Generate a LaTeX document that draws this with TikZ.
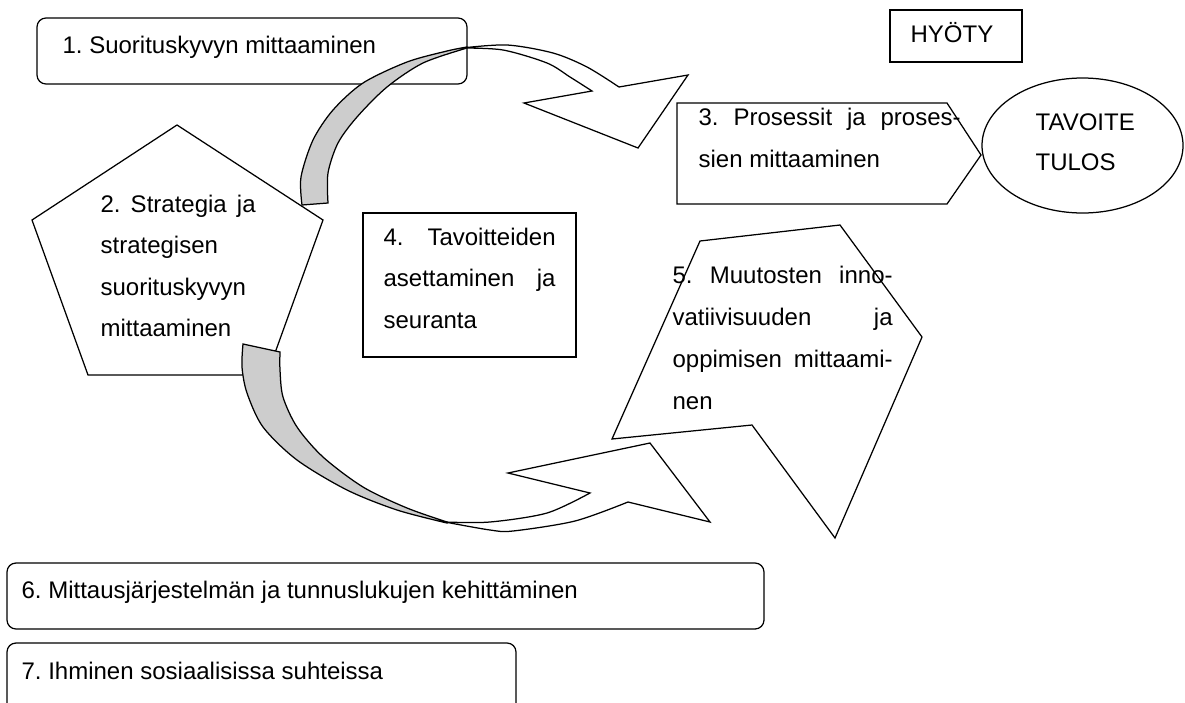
\documentclass[tikz,border=0pt]{standalone}
\usepackage{fontspec}
\setmainfont{Liberation Sans}
\definecolor{bandgray}{RGB}{205,205,205}
\frenchspacing
\begin{document}
\begin{tikzpicture}[x=1pt,y=-1pt, line width=1.25pt,
  lbl/.style={inner sep=0pt, anchor=base west, font=\fontsize{24}{28}\selectfont},
  band/.style={draw=black, fill=bandgray},
  face/.style={draw=black, fill=white},
  roundbox/.style={draw=black, rounded corners=9pt}]
\useasboundingbox (0,0) rectangle (1185,702);
\clip (0,0) rectangle (1185,702);

% pentagon: strategy
\draw[face] (177,125) -- (323,220) -- (267,375) -- (88,375) -- (32,220) -- cycle;
% rounded box: performance measurement
\draw[roundbox] (37,18) rectangle (467,84);
% goal setting box
\draw (363,213) rectangle (576,357);
% process box with pointed right end
\draw (677,103) -- (947,103) -- (981,155) -- (947,204) -- (677,204) -- cycle;
% goal / result ellipse
\draw (1082.5,145.5) ellipse [x radius=100.5pt, y radius=67.5pt];
% benefit box
\draw (890,10) rectangle (1022,62);
% innovation polygon
\draw (700,241) -- (840,225) -- (922,337) -- (835,538) -- (752,425) -- (612,439) -- cycle;
% bottom rounded boxes
\draw[roundbox] (7,563) rectangle (764,629);
\draw[roundbox] (7,643) rectangle (516,730);

% upper curved arrow: shaded back face, then front face with head
\draw[band] plot[smooth] coordinates {(302,205) (301,177) (313,140) (333,110) (363,83) (407,62) (447,51) (467,47)}
  -- plot[smooth] coordinates {(467,48) (423,63) (387,87) (357,117) (338,143) (328,173) (328,203)} -- cycle;
\draw[face] plot[smooth] coordinates {(462,48) (507,45) (553,53) (587,67) (619,87)}
  -- (688,75) -- (638,148) -- (524,103) -- (592,91)
  -- plot[smooth] coordinates {(592,91) (570,77) (547,63) (503,50) (462,48)} -- cycle;

% lower curved arrow
\draw[band] plot[smooth] coordinates {(243,344) (242,367) (247,393) (263,427) (297,460) (347,490) (397,510) (447,523)}
  -- plot[smooth] coordinates {(447,522) (407,508) (363,487) (323,457) (297,427) (283,397) (280,370) (280,352)} -- cycle;
\draw[face] plot[smooth] coordinates {(445,522) (490,530) (513,531) (575,521) (628,502)}
  -- (710,522) -- (650,443) -- (508,473) -- (590,493)
  -- plot[smooth] coordinates {(590,493) (547,513) (490,522) (445,522)} -- cycle;

% labels
\node[lbl] (t1) at (62,53) {1. Suorituskyvyn mittaaminen};
\node[lbl] (hy) at (910,42) {HYÖTY};
\node[lbl] (ta) at (1035,130) {TAVOITE};
\node[lbl] (tu) at (1035,170) {TULOS};
\node[lbl] (t3a) at (698,125) {\makebox[262pt][s]{3. Prosessit ja proses-}};
\node[lbl] (t3b) at (698,167) {sien mittaaminen};
\node[lbl] (t2a) at (100,212) {\makebox[155pt][s]{2. Strategia ja}};
\node[lbl] (t2b) at (100,253.5) {strategisen};
\node[lbl] (t2c) at (100,295) {suorituskyvyn};
\node[lbl] (t2d) at (100,336.5) {mittaaminen};
\node[lbl] (t4a) at (383,245) {\makebox[172pt][s]{4. Tavoitteiden}};
\node[lbl] (t4b) at (383,286.5) {\makebox[172pt][s]{asettaminen ja}};
\node[lbl] (t4c) at (383,328) {seuranta};
\node[lbl] (t5a) at (672,283) {\makebox[220pt][s]{5. Muutosten inno-}};
\node[lbl] (t5b) at (672,325) {\makebox[220pt][s]{vatiivisuuden ja}};
\node[lbl] (t5c) at (672,367) {\makebox[220pt][s]{oppimisen mittaami-}};
\node[lbl] (t5d) at (672,409) {nen};
\node[lbl] (t6) at (21,598) {6. Mittausjärjestelmän ja tunnuslukujen kehittäminen};
\node[lbl] (t7) at (21,679) {7. Ihminen sosiaalisissa suhteissa};
\end{tikzpicture}
\end{document}
